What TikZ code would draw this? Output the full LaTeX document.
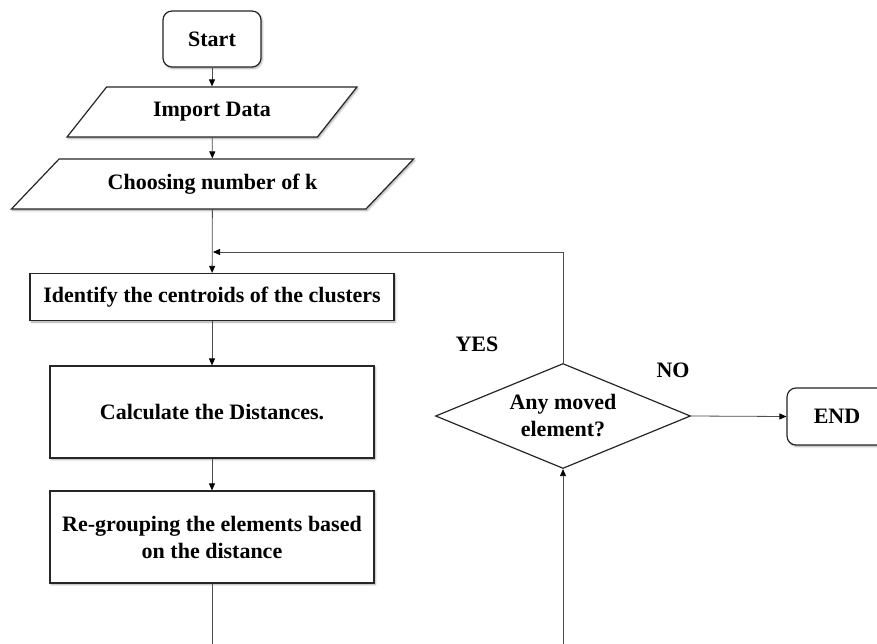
\documentclass[tikz,border=0pt]{standalone}
\usepackage{fontspec}
\setmainfont{Liberation Serif}
\usetikzlibrary{shapes.geometric,arrows.meta,shadows.blur}

\tikzset{
  base/.style={draw=black!85, line width=1.2pt, fill=white, align=center,
    font=\fontsize{22}{27}\selectfont\bfseries, inner sep=0pt},
  soft/.style={blur shadow={shadow xshift=1.2pt, shadow yshift=-1.5pt,
    shadow blur radius=2pt, shadow blur steps=5, shadow opacity=35}},
  terminal/.style={base, soft, rounded corners=9pt, rectangle},
  iobox/.style={base, soft, trapezium, trapezium stretches=true},
  process/.style={base, soft, rectangle},
  decision/.style={base, diamond, aspect=2.43},
  lbl/.style={font=\fontsize{22}{27}\selectfont\bfseries, inner sep=0pt},
  flow/.style={draw=black!70, line width=0.8pt},
  arr/.style={flow, -{Triangle[length=7pt,width=6pt,color=black]}}
}

\begin{document}
\begin{tikzpicture}[x=1pt, y=-1pt]
  \useasboundingbox (0,0) rectangle (877,644);
  \clip (0,0) rectangle (877,644);

  % main column
  \node[terminal, minimum width=98pt, minimum height=56pt] (start) at (212,39) {Start};
  \node[iobox, trapezium left angle=40.8, trapezium right angle=139.2,
        minimum width=290pt, minimum height=50pt] (import) at (212,112) {Import Data};
  \node[iobox, trapezium left angle=32, trapezium right angle=148,
        minimum width=403pt, minimum height=50pt] (choose) at (212.5,184) {Choosing number of k};
  \node[process, minimum width=364pt, minimum height=47pt] (ident) at (212,297)
        {Identify the centroids of the clusters};
  \node[process, minimum width=324pt, minimum height=92pt] (calc) at (212,412)
        {Calculate the Distances.};
  \node[process, minimum width=324pt, minimum height=92pt] (regroup) at (212,537)
        {Re-grouping the elements based\\on the distance};

  % decision and end
  \node[decision, minimum width=255pt, minimum height=105pt] (moved) at (563,416)
        {Any moved\\element?};
  \node[terminal, minimum width=100pt, minimum height=57pt] (finish) at (837,416.5) {END};

  \node[lbl] (yes) at (477,344) {YES};
  \node[lbl] (no) at (673,370) {NO};

  % helper points for the loop
  \coordinate (join) at (212,252);
  \coordinate (turn) at (563,252);
  \coordinate (outA) at (212,660);
  \coordinate (outB) at (563,660);

  % connectors
  \draw[arr] (start) -- (import);
  \draw[arr] (import) -- (choose);
  \draw[arr] (choose) -- (ident);
  \draw[arr] (moved.north) -- (turn) -- ([xshift=1pt]join);
  \draw[arr] (ident) -- (calc);
  \draw[arr] (calc) -- (regroup);
  \draw[flow] (regroup) -- (outA);
  \draw[arr] (outB) -- (moved.south);
  \draw[arr] (moved.east) -- (finish.west);
\end{tikzpicture}
\end{document}
